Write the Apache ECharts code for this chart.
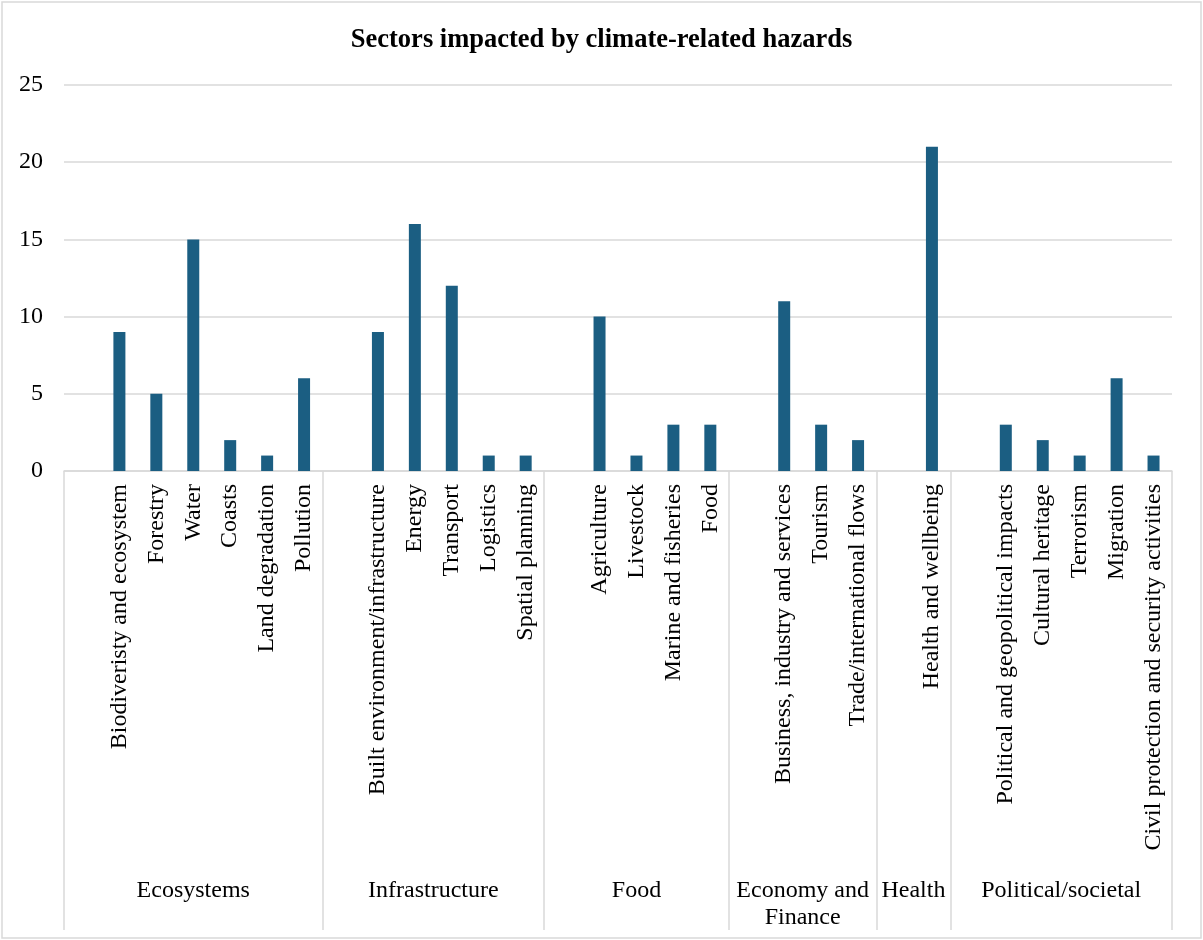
<!DOCTYPE html>
<html>
<head>
<meta charset="utf-8">
<script src="https://cdn.jsdelivr.net/npm/echarts@6/dist/echarts.min.js"></script>
<style>
  html, body { margin: 0; padding: 0; background: #fff; }
  #chart { width: 1203px; height: 940px; }
</style>
</head>
<body>
<div id="chart"></div>
<script>
// ---- data ----
const titleText = 'Sectors impacted by climate-related hazards';
const groupNames = ['Ecosystems', 'Infrastructure', 'Food', 'Economy and\nFinance', 'Health', 'Political/societal'];

const ecosystemsSectors = ['Biodiveristy and ecosystem', 'Forestry', 'Water', 'Coasts', 'Land degradation', 'Pollution'];
const ecosystemsValues = [9, 5, 15, 2, 1, 6];

const infrastructureSectors = ['Built environment/infrastructure', 'Energy', 'Transport', 'Logistics', 'Spatial planning'];
const infrastructureValues = [9, 16, 12, 1, 1];

const foodSectors = ['Agriculture', 'Livestock', 'Marine and fisheries', 'Food'];
const foodValues = [10, 1, 3, 3];

const economySectors = ['Business, industry and services', 'Tourism', 'Trade/international flows'];
const economyValues = [11, 3, 2];

const healthSectors = ['Health and wellbeing'];
const healthValues = [21];

const politicalSectors = ['Political and geopolitical impacts', 'Cultural heritage', 'Terrorism', 'Migration', 'Civil protection and security activities'];
const politicalValues = [3, 2, 1, 6, 1];

const yTicks = [0, 5, 10, 15, 20, 25];

// ---- build axis data (each group starts with an empty category slot, as in the source) ----
const groupSectors = [ecosystemsSectors, infrastructureSectors, foodSectors, economySectors, healthSectors, politicalSectors];
const groupValues = [ecosystemsValues, infrastructureValues, foodValues, economyValues, healthValues, politicalValues];

const categories = [];
const values = [];
const groupStarts = new Set();
const groupLabelSlots = {};
groupSectors.forEach(function (secs, g) {
  const start = categories.length;
  groupStarts.add(start);
  categories.push('');
  values.push(null);
  secs.forEach(function (s, i) {
    categories.push(s);
    values.push(groupValues[g][i]);
  });
  const n = secs.length + 1;
  groupLabelSlots[2 * start + n] = groupNames[g];
});
const total = categories.length;
const groupAxisData = [];
for (let k = 0; k <= 2 * total; k++) {
  groupAxisData.push(groupLabelSlots[k] || '');
}

const FONT = 'Liberation Serif';
const GRID_COLOR = '#d9d9d9';

const chart = echarts.init(document.getElementById('chart'), null, { renderer: 'canvas' });
chart.setOption({
  backgroundColor: '#ffffff',
  animation: false,
  title: {
    text: titleText,
    left: 'center',
    top: 22,
    textStyle: { fontFamily: FONT, fontSize: 26.5, fontWeight: 'bold', color: '#000' }
  },
  graphic: [{
    type: 'rect',
    shape: { x: 2, y: 2, width: 1199, height: 936 },
    style: { fill: 'none', stroke: GRID_COLOR, lineWidth: 1.5 },
    silent: true,
    z: -1
  }],
  grid: { left: 64, right: 31, top: 85, bottom: 469, containLabel: false },
  xAxis: [{
    type: 'category',
    data: categories,
    boundaryGap: true,
    axisLine: { show: true, lineStyle: { color: GRID_COLOR, width: 1.5 } },
    axisTick: {
      show: true,
      alignWithLabel: false,
      interval: function (index) { return groupStarts.has(index); },
      length: 459,
      lineStyle: { color: GRID_COLOR, width: 1.5 }
    },
    axisLabel: {
      interval: 0,
      rotate: 90,
      margin: 13,
      fontFamily: FONT,
      fontSize: 24,
      color: '#000'
    },
    splitLine: { show: false }
  }, {
    type: 'category',
    data: groupAxisData,
    boundaryGap: false,
    position: 'bottom',
    offset: 406,
    axisLine: { show: false },
    axisTick: { show: false },
    axisLabel: {
      interval: function (index, value) { return value !== ''; },
      margin: 0,
      verticalAlign: 'top',
      fontFamily: FONT,
      fontSize: 24,
      lineHeight: 27,
      color: '#000'
    },
    splitLine: { show: false }
  }],
  yAxis: {
    type: 'value',
    min: yTicks[0],
    max: yTicks[yTicks.length - 1],
    interval: yTicks[1] - yTicks[0],
    axisLine: { show: false },
    axisTick: { show: false },
    axisLabel: { margin: 21, fontFamily: FONT, fontSize: 24, color: '#000' },
    splitLine: { lineStyle: { color: GRID_COLOR, width: 1.5 } }
  },
  series: [{
    type: 'bar',
    xAxisIndex: 0,
    data: values,
    barWidth: 12,
    itemStyle: { color: '#1b5e82' }
  }]
});
</script>
</body>
</html>
